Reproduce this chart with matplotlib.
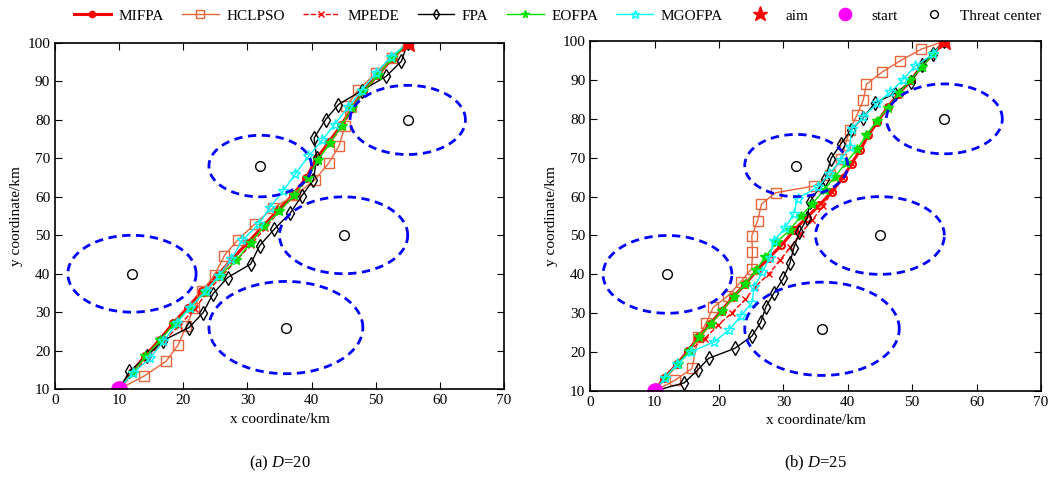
import numpy as np
import matplotlib
matplotlib.use("Agg")
import matplotlib.pyplot as plt

plt.rcParams['font.family'] = ['Liberation Serif', 'DejaVu Serif']
plt.rcParams['font.size'] = 11
plt.rcParams['mathtext.fontset'] = 'custom'
plt.rcParams['mathtext.rm'] = 'Liberation Serif'
plt.rcParams['mathtext.it'] = 'Liberation Serif:italic'

# threat areas: centre x, centre y, radius
threat_x = [12, 32, 55, 45, 36]
threat_y = [40, 68, 80, 50, 26]
threat_r = [10, 8, 9, 10, 12]

start = (10, 10)
aim = (55, 100)

# ---- (a) D=20 ----
a_mifpa_x = [10, 12, 14, 16.3, 18.4, 20.7, 22.9, 25.3, 27.6, 30.0, 32.4, 34.8, 37.1, 39.2, 40.8, 42.7, 44.6, 46.3, 48.0, 50.4, 52.6, 55]
a_mifpa_y = [10, 14.4, 18.6, 22.8, 27.1, 31.2, 35.4, 39.5, 43.8, 48.0, 52.3, 56.6, 60.5, 65.0, 70.0, 74.2, 78.6, 83.0, 87.5, 91.8, 96.0, 100]
a_hclpso_x = [10, 13.8, 17.3, 19.2, 20.5, 21.7, 22.9, 24.9, 26.4, 28.5, 31.2, 34.0, 37.5, 40.5, 42.7, 44.3, 45.2, 45.4, 47.3, 50.1, 52.6, 55]
a_hclpso_y = [10, 13.3, 17.2, 21.5, 26.5, 31.2, 35.4, 39.7, 44.7, 48.8, 53.0, 57.1, 60.5, 64.4, 68.8, 73.3, 78.3, 83.5, 87.9, 92.2, 96.1, 100]
a_mpede_x = [10, 12.2, 14.4, 16.9, 19.3, 21.8, 23.6, 25.9, 28.3, 30.6, 32.8, 35.0, 37.3, 39.4, 41.0, 42.9, 44.8, 46.4, 48.1, 50.5, 52.7, 55]
a_mpede_y = [10, 14.1, 18.2, 22.3, 26.5, 30.8, 35.0, 39.2, 43.5, 47.6, 52.0, 56.3, 60.2, 64.7, 69.6, 74.0, 78.4, 82.8, 87.3, 91.7, 96.0, 100]
a_fpa_x = [10, 11.6, 14.3, 16.8, 20.9, 23.1, 24.6, 26.9, 30.5, 31.9, 34.2, 36.7, 38.5, 40.3, 40.8, 40.4, 42.2, 44.2, 47.8, 51.6, 54.0, 55]
a_fpa_y = [10, 14.6, 18.5, 22.6, 26.0, 29.9, 34.7, 39.0, 42.5, 47.3, 51.6, 55.8, 60.3, 64.4, 70.1, 75.3, 80.1, 84.0, 87.6, 91.3, 95.2, 100]
a_eofpa_x = [10, 12.1, 14.1, 16.4, 18.6, 21.0, 23.4, 25.7, 28.3, 30.5, 32.6, 35.0, 37.3, 39.4, 41.0, 42.9, 44.7, 46.3, 48.1, 50.4, 52.6, 55]
a_eofpa_y = [10, 14.3, 18.5, 22.7, 27.0, 31.1, 35.3, 39.5, 43.6, 48.0, 52.3, 56.3, 60.4, 64.8, 69.6, 74.0, 78.5, 83.0, 87.4, 91.8, 96.0, 100]
a_mgofpa_x = [10, 12.1, 14.8, 16.9, 19.0, 21.0, 23.5, 25.5, 27.5, 29.2, 31.8, 33.5, 35.6, 37.5, 39.5, 41.7, 43.6, 45.7, 47.8, 50.0, 52.4, 55]
a_mgofpa_y = [10, 14.1, 18.0, 22.4, 27.1, 31.2, 35.4, 39.5, 43.8, 48.7, 53.0, 57.2, 61.6, 66.0, 70.5, 74.8, 78.8, 83.3, 87.6, 92.2, 96.4, 100]

# ---- (b) D=25 ----
b_mifpa_x = [10, 11.5, 13.5, 15.2, 16.8, 18.6, 20.4, 22.2, 24.1, 25.9, 27.8, 29.7, 31.7, 33.6, 35.6, 37.5, 39.2, 40.6, 41.9, 43.2, 44.6, 46.2, 47.9, 49.8, 51.4, 53.2, 55]
b_mifpa_y = [10, 13.4, 16.9, 20.4, 23.8, 27.2, 30.7, 34.2, 37.5, 41.1, 44.3, 47.5, 51.4, 54.6, 57.8, 61.2, 64.8, 68.5, 71.9, 75.8, 79.2, 83.0, 86.5, 89.9, 93.5, 96.6, 100]
b_hclpso_x = [10, 13.2, 15.8, 16.8, 18.0, 19.1, 21.4, 23.4, 25.1, 25.2, 25.1, 26.0, 26.6, 28.8, 34.7, 37.3, 39.0, 39.6, 40.3, 41.4, 42.4, 42.9, 45.3, 48.1, 51.4, 55]
b_hclpso_y = [10, 12.8, 15.8, 24.0, 27.4, 31.5, 34.5, 38.1, 41.5, 45.8, 49.9, 53.8, 58.1, 61.0, 62.7, 65.5, 69.8, 73.2, 77.1, 80.9, 84.8, 88.9, 92.0, 94.9, 97.9, 100]
b_mpede_x = [10, 11.6, 13.6, 15.3, 17.8, 19.9, 22.0, 24.1, 25.6, 27.7, 29.5, 31.1, 32.7, 34.5, 36.2, 37.5, 39.2, 40.6, 41.9, 43.2, 44.6, 46.2, 47.9, 49.8, 51.4, 53.2, 55]
b_mpede_y = [10, 13.3, 16.8, 20.3, 23.5, 27.0, 30.1, 33.6, 36.8, 40.0, 43.7, 47.0, 50.5, 54.0, 57.6, 61.2, 64.8, 68.5, 71.9, 75.8, 79.2, 83.0, 86.5, 89.9, 93.5, 96.6, 100]
b_fpa_x = [10, 14.6, 16.7, 18.4, 22.5, 25.1, 26.5, 27.3, 28.5, 30.0, 31.0, 31.6, 32.5, 33.7, 34.1, 36.5, 37.4, 38.9, 40.5, 42.4, 44.2, 47.3, 49.8, 51.5, 53.2, 55]
b_fpa_y = [10, 12.1, 15.4, 18.4, 21.0, 24.1, 27.7, 31.7, 35.1, 39.0, 42.8, 46.7, 50.9, 54.4, 58.6, 64.5, 69.8, 73.5, 77.1, 80.3, 84.1, 86.5, 89.5, 93.8, 96.7, 100]
b_eofpa_x = [10, 11.6, 13.6, 15.3, 16.9, 18.7, 20.5, 22.3, 24.1, 25.7, 27.2, 29.0, 31.0, 32.7, 34.5, 36.4, 38.0, 39.7, 41.5, 42.9, 44.5, 46.3, 47.9, 49.7, 51.5, 53.2, 55]
b_eofpa_y = [10, 13.4, 16.9, 20.4, 23.8, 27.2, 30.7, 34.2, 37.6, 41.0, 44.5, 48.4, 51.4, 55.0, 58.2, 61.8, 65.1, 68.7, 72.3, 75.8, 79.5, 82.9, 86.6, 89.9, 93.3, 96.6, 100]
b_mgofpa_x = [10, 11.6, 13.5, 15.7, 19.3, 21.6, 23.4, 25.1, 25.5, 26.7, 27.9, 28.5, 30.2, 31.6, 32.2, 35.4, 37.1, 38.9, 40.3, 40.6, 42.4, 44.6, 46.6, 48.6, 50.4, 53.2, 55]
b_mgofpa_y = [10, 13.4, 16.9, 20.1, 22.7, 25.7, 29.3, 32.7, 36.8, 40.5, 44.3, 48.6, 51.8, 55.5, 59.5, 62.5, 65.8, 69.4, 72.8, 77.3, 80.5, 84.1, 86.9, 90.1, 93.5, 96.6, 100]

panels = [
    ("(a) ", "=20", [(a_mifpa_x, a_mifpa_y), (a_hclpso_x, a_hclpso_y), (a_mpede_x, a_mpede_y),
                     (a_fpa_x, a_fpa_y), (a_eofpa_x, a_eofpa_y), (a_mgofpa_x, a_mgofpa_y)]),
    ("(b) ", "=25", [(b_mifpa_x, b_mifpa_y), (b_hclpso_x, b_hclpso_y), (b_mpede_x, b_mpede_y),
                     (b_fpa_x, b_fpa_y), (b_eofpa_x, b_eofpa_y), (b_mgofpa_x, b_mgofpa_y)]),
]

names = ["MIFPA", "HCLPSO", "MPEDE", "FPA", "EOFPA", "MGOFPA"]
styles = [
    dict(color="red", lw=2.2, ls="-", marker="o", ms=5, mfc="none", mew=1.5),
    dict(color="#e8643a", lw=1.0, ls="-", marker="s", ms=7, mfc="none", mew=1.0),
    dict(color="red", lw=1.0, ls="--", marker="x", ms=5, mfc="none", mew=1.0),
    dict(color="black", lw=1.0, ls="-", marker="d", ms=7, mfc="none", mew=1.0),
    dict(color="#00e000", lw=1.0, ls="-", marker="*", ms=7, mfc="#00e000", mew=1.0),
    dict(color="cyan", lw=1.0, ls="-", marker="*", ms=8, mfc="none", mew=1.0),
]

fig = plt.figure(figsize=(10.52, 4.78), dpi=100)
positions = [[0.0523, 0.186, 0.4267, 0.724], [0.561, 0.182, 0.4285, 0.732]]

t = np.linspace(0, 2 * np.pi, 200)
handles = None
for (prefix, suffix, paths), pos in zip(panels, positions):
    ax = fig.add_axes(pos)
    hs = []
    for (px, py), st, nm in zip(paths, styles, names):
        h, = ax.plot(px, py, label=nm, **st)
        hs.append(h)
    for cx, cy, r in zip(threat_x, threat_y, threat_r):
        ax.plot(cx + r * np.cos(t), cy + r * np.sin(t), color="blue", ls=(0, (3, 2)), lw=2)
    h_aim, = ax.plot(aim[0], aim[1], ls="none", marker="*", color="red", ms=14, label="aim")
    h_start, = ax.plot(start[0], start[1], ls="none", marker="o", color="magenta", ms=11, label="start")
    h_thr, = ax.plot(threat_x, threat_y, ls="none", marker="o", mfc="none", mec="black", ms=7, label="Threat center")
    hs += [h_aim, h_start, h_thr]
    if handles is None:
        handles = hs
    ax.set_xlim(0, 70)
    ax.set_ylim(10, 100)
    ax.set_xticks(range(0, 71, 10))
    ax.set_yticks(range(10, 101, 10))
    ax.tick_params(direction="in", top=True, right=True, length=5, labelsize=11)
    for sp in ax.spines.values():
        sp.set_linewidth(1.2)
    ax.set_xlabel("x coordinate/km", fontsize=11, labelpad=4)
    ax.set_ylabel("y coordinate/km", fontsize=11, labelpad=3)
    cx = pos[0] + pos[2] / 2
    fig.text(cx, 0.03, prefix + "$\\mathit{D}$" + suffix, ha="center", va="center", fontsize=12)

leg = fig.legend(handles=handles, loc="upper center", bbox_to_anchor=(0.53, 1.01), ncol=9,
                 frameon=False, fontsize=11, handlelength=2.4, columnspacing=1.2, handletextpad=0.5,
                 markerscale=0.8)

fig.savefig("out.png", dpi=100)
